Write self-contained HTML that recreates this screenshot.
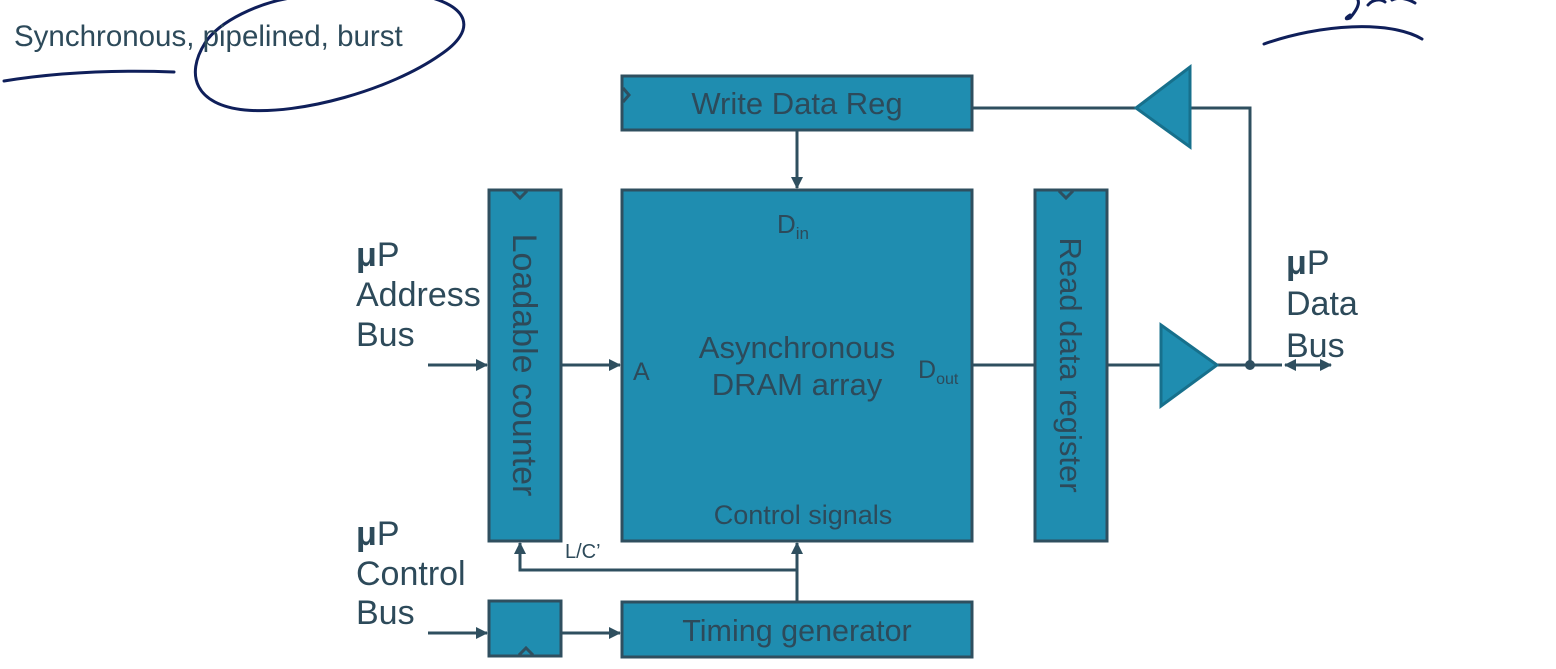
<!DOCTYPE html>
<html><head><meta charset="utf-8"><style>
html,body{margin:0;padding:0;background:#fff;width:1556px;height:669px;overflow:hidden}
svg{display:block}
text{font-family:"Liberation Sans",sans-serif;fill:#2d4a5a}
</style></head><body>
<svg width="1556" height="669" viewBox="0 0 1556 669" xmlns="http://www.w3.org/2000/svg">
<defs>
<marker id="ar" markerWidth="12" markerHeight="12" refX="11" refY="6" orient="auto" markerUnits="userSpaceOnUse"><path d="M0,0 L12,6 L0,12 Z" fill="#2f4f5f"/></marker>
<marker id="al" markerWidth="12" markerHeight="12" refX="1" refY="6" orient="auto" markerUnits="userSpaceOnUse"><path d="M12,0 L0,6 L12,12 Z" fill="#2f4f5f"/></marker>
</defs>
<g stroke="#2f4f5f" stroke-width="3" fill="#1f8db0">
<rect x="622" y="76" width="350" height="54"/>
<rect x="622" y="190" width="350" height="351"/>
<rect x="489" y="190" width="72" height="351"/>
<rect x="1035" y="190" width="72" height="351"/>
<rect x="489" y="601" width="72" height="55"/>
<rect x="622" y="602" width="350" height="55"/>
</g>
<g stroke="#2f4f5f" stroke-width="3" fill="none">
<path d="M623,88 L629,95 L623,102"/>
<path d="M513,191 L520,198 L527,191"/>
<path d="M1059,191 L1066,198 L1073,191"/>
<path d="M519,655 L526,648 L533,655"/>
<line x1="972" y1="108" x2="1136" y2="108"/>
<polyline points="1190,108 1250,108 1250,365"/>
<line x1="797" y1="130" x2="797" y2="188" marker-end="url(#ar)"/>
<line x1="428" y1="365" x2="487" y2="365" marker-end="url(#ar)"/>
<line x1="561" y1="365" x2="620" y2="365" marker-end="url(#ar)"/>
<line x1="972" y1="365" x2="1035" y2="365"/>
<line x1="1107" y1="365" x2="1161" y2="365"/>
<line x1="1217" y1="365" x2="1282" y2="365"/>
<line x1="1285" y1="365" x2="1331" y2="365" marker-start="url(#al)" marker-end="url(#ar)"/>
<line x1="428" y1="633" x2="487" y2="633" marker-end="url(#ar)"/>
<line x1="561" y1="633" x2="620" y2="633" marker-end="url(#ar)"/>
<line x1="797" y1="602" x2="797" y2="543" marker-end="url(#ar)"/>
<polyline points="797,570 520,570 520,543" marker-end="url(#ar)"/>
</g>
<circle cx="1250" cy="365" r="5" fill="#2f4f5f"/>
<polygon points="1136,108 1190,67 1190,147" fill="#1f8db0" stroke="#17708c" stroke-width="3"/>
<polygon points="1161,325 1217,365 1161,406" fill="#1f8db0" stroke="#17708c" stroke-width="3"/>
<g stroke="#0f1f5a" stroke-width="3" fill="none" stroke-linecap="round">
<path d="M4,81 C60,72 120,70 174,72"/>
<path d="M205,43 C220,20 260,3 290,-2 M420,-5 C470,5 478,30 440,55 C390,90 300,115 245,110 C195,105 185,75 205,43"/>
<path d="M1264,44 C1320,24 1390,20 1422,39"/>
<path d="M1350,15 C1345,18 1345,20 1350,18 C1355,12 1360,5 1358,0"/>
<path d="M1368,5 C1372,0 1380,-2 1385,2 M1392,0 C1400,-4 1410,0 1415,3"/>
</g>
<text x="14" y="46" font-size="29.5">Synchronous, pipelined, burst</text>
<text x="797" y="114" font-size="31" text-anchor="middle">Write Data Reg</text>
<text x="777" y="233" font-size="26">D<tspan font-size="17" dy="6">in</tspan></text>
<text x="797" y="358" font-size="31" text-anchor="middle">Asynchronous</text>
<text x="797" y="395" font-size="31" text-anchor="middle">DRAM array</text>
<text x="633" y="380" font-size="25">A</text>
<text x="918" y="378" font-size="25">D<tspan font-size="16" dy="6">out</tspan></text>
<text x="803" y="524" font-size="27" text-anchor="middle">Control signals</text>
<text x="797" y="641" font-size="30.5" text-anchor="middle">Timing generator</text>
<text transform="translate(513,365) rotate(90)" font-size="34" text-anchor="middle">Loadable counter</text>
<text transform="translate(1060,365) rotate(90)" font-size="31" text-anchor="middle">Read data register</text>
<text x="565" y="558" font-size="20">L/C’</text>
<g font-size="34">
<text x="356" y="266"><tspan font-weight="bold">μ</tspan>P</text><text x="356" y="306">Address</text><text x="356" y="346">Bus</text>
<text x="356" y="545"><tspan font-weight="bold">μ</tspan>P</text><text x="356" y="585">Control</text><text x="356" y="624">Bus</text>
<text x="1286" y="274"><tspan font-weight="bold">μ</tspan>P</text><text x="1286" y="315">Data</text><text x="1286" y="357">Bus</text>
</g>
</svg>
</body></html>
